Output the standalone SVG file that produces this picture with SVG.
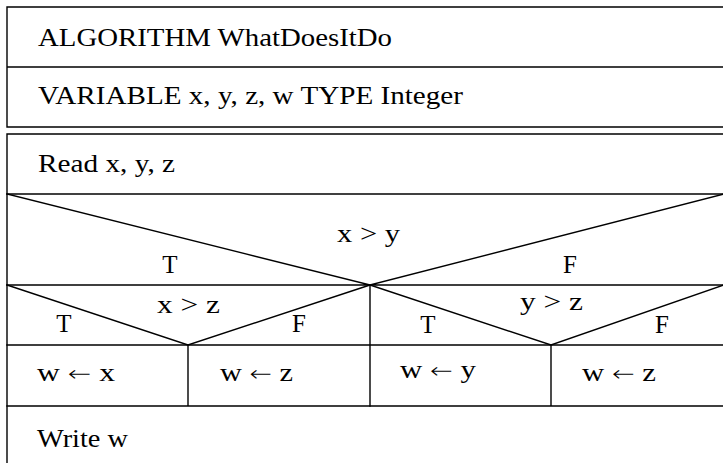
<svg xmlns="http://www.w3.org/2000/svg" width="723" height="463" viewBox="0 0 723 463">
<style>
.l{stroke:#000;stroke-width:1.4;fill:none;stroke-linecap:square}
text{font-family:"Liberation Serif","Times New Roman",serif;font-size:25px;fill:#000}
.m{text-anchor:middle}
.ar{font-family:"DejaVu Sans",sans-serif;font-size:22px;font-weight:300}
</style>
<rect width="723" height="463" fill="#fff"/>
<g id="header">
<path class="l" d="M7,7 H730 M7,67 H730 M7,127 H730 M7,7 V127"/>
<text x="38" y="46" textLength="354" lengthAdjust="spacingAndGlyphs">ALGORITHM WhatDoesItDo</text>
<text x="38" y="104" textLength="425" lengthAdjust="spacingAndGlyphs">VARIABLE x, y, z, w TYPE Integer</text>
</g>
<g id="body-frame">
<path class="l" d="M7,134 H730 M7,134 V470"/>
</g>
<g id="read">
<path class="l" d="M7,194 H730"/>
<text x="38" y="172" textLength="137" lengthAdjust="spacingAndGlyphs">Read x, y, z</text>
</g>
<g id="decision-xy">
<path class="l" d="M7,194 L370,285 L724,194 M7,285 H730 M370,285 V406"/>
<text x="337" y="242" textLength="63" lengthAdjust="spacingAndGlyphs">x &gt; y</text>
<text class="m" x="170" y="273">T</text>
<text class="m" x="570" y="273">F</text>
</g>
<g id="decision-xz">
<path class="l" d="M7,285 L188,345 L370,285"/>
<text x="157" y="313" textLength="63" lengthAdjust="spacingAndGlyphs">x &gt; z</text>
<text class="m" x="64" y="332">T</text>
<text class="m" x="299" y="332">F</text>
</g>
<g id="decision-yz">
<path class="l" d="M370,285 L551,345 L724,285"/>
<text x="520" y="310" textLength="63" lengthAdjust="spacingAndGlyphs">y &gt; z</text>
<text class="m" x="428" y="333">T</text>
<text class="m" x="662" y="333">F</text>
</g>
<g id="assign-row">
<path class="l" d="M7,345 H730 M7,406 H730 M188,345 V406 M551,345 V406"/>
</g>
<g id="assign-wx"><text x="37" y="381" textLength="78" lengthAdjust="spacingAndGlyphs">w <tspan class="ar">←</tspan> x</text></g>
<g id="assign-wz1"><text x="220" y="381" textLength="73" lengthAdjust="spacingAndGlyphs">w <tspan class="ar">←</tspan> z</text></g>
<g id="assign-wy"><text x="400" y="378" textLength="76" lengthAdjust="spacingAndGlyphs">w <tspan class="ar">←</tspan> y</text></g>
<g id="assign-wz2"><text x="582" y="381" textLength="74" lengthAdjust="spacingAndGlyphs">w <tspan class="ar">←</tspan> z</text></g>
<g id="write">
<text x="37" y="447" textLength="91" lengthAdjust="spacingAndGlyphs">Write w</text>
</g>
<g id="connectors"></g>
</svg>
